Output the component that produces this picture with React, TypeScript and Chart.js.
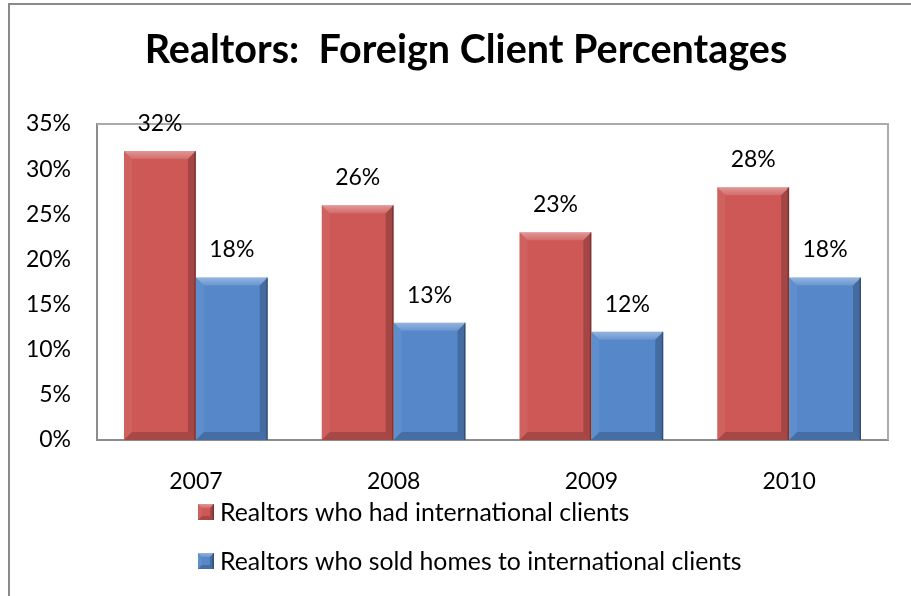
import React, { useEffect, useRef } from "react";
import { Chart, registerables } from "chart.js";

Chart.register(...registerables);

const categories = ["2007", "2008", "2009", "2010"];
const hadClients = [32, 26, 23, 28];
const soldHomes = [18, 13, 12, 18];
const seriesNames = [
  "Realtors who had international clients",
  "Realtors who sold homes to international clients",
];
const seriesColors = ["#CD5856", "#5587C9"];
const yMax = 35;
const yStep = 5;
const titleText = "Realtors:  Foreign Client Percentages";

const FONT = "Lato, 'Open Sans', sans-serif";

function drawBevel(ctx: CanvasRenderingContext2D, l: number, t: number, r: number, b: number, s: number) {
  if (b - t < 2 * s) s = Math.max(1, (b - t) / 2);
  ctx.save();
  // top
  const g = ctx.createLinearGradient(0, t, 0, t + s);
  g.addColorStop(0, "rgba(255,255,255,0.38)");
  g.addColorStop(1, "rgba(255,255,255,0.12)");
  ctx.beginPath();
  ctx.moveTo(l, t); ctx.lineTo(r, t); ctx.lineTo(r - s, t + s); ctx.lineTo(l + s, t + s); ctx.closePath();
  ctx.fillStyle = g;
  ctx.fill();
  // left
  ctx.beginPath();
  ctx.moveTo(l, t); ctx.lineTo(l + s, t + s); ctx.lineTo(l + s, b - s); ctx.lineTo(l, b); ctx.closePath();
  ctx.fillStyle = "rgba(255,255,255,0.06)";
  ctx.fill();
  // right
  ctx.beginPath();
  ctx.moveTo(r, t); ctx.lineTo(r - s, t + s); ctx.lineTo(r - s, b - s); ctx.lineTo(r, b); ctx.closePath();
  ctx.fillStyle = "rgba(0,0,0,0.2)";
  ctx.fill();
  // bottom
  ctx.beginPath();
  ctx.moveTo(l, b); ctx.lineTo(l + s, b - s); ctx.lineTo(r - s, b - s); ctx.lineTo(r, b); ctx.closePath();
  ctx.fillStyle = "rgba(0,0,0,0.18)";
  ctx.fill();
  // dark right edge
  ctx.fillStyle = "rgba(0,0,0,0.25)";
  ctx.fillRect(r - 1.5, t, 1.5, b - t);
  ctx.restore();
}

const bevelPlugin = {
  id: "bevel",
  afterDatasetsDraw(chart: any) {
    const ctx = chart.ctx;
    chart.data.datasets.forEach((_ds: any, i: number) => {
      const meta = chart.getDatasetMeta(i);
      meta.data.forEach((el: any) => {
        const { x, y, base, width } = el.getProps(["x", "y", "base", "width"], true);
        drawBevel(ctx, x - width / 2, y, x + width / 2, base, 8);
      });
    });
  },
};

const valueLabelPlugin = {
  id: "valueLabels",
  afterDatasetsDraw(chart: any) {
    const ctx = chart.ctx;
    ctx.save();
    ctx.font = `23px ${FONT}`;
    ctx.fillStyle = "#000";
    ctx.textAlign = "center";
    ctx.textBaseline = "middle";
    chart.data.datasets.forEach((ds: any, i: number) => {
      const meta = chart.getDatasetMeta(i);
      meta.data.forEach((el: any, j: number) => {
        const { x, y } = el.getProps(["x", "y"], true);
        ctx.fillText(`${ds.data[j]}%`, x, y - 27.5);
      });
    });
    ctx.restore();
  },
};

const plotBorderPlugin = {
  id: "plotBorder",
  beforeDatasetsDraw(chart: any) {
    const { ctx, chartArea } = chart;
    ctx.save();
    ctx.strokeStyle = "#ababab";
    ctx.lineWidth = 2;
    ctx.beginPath();
    ctx.moveTo(chartArea.left, chartArea.top);
    ctx.lineTo(chartArea.right, chartArea.top);
    ctx.lineTo(chartArea.right, chartArea.bottom);
    ctx.stroke();
    ctx.restore();
  },
};

const legendPlugin = {
  id: "customLegend",
  afterDraw(chart: any) {
    const ctx = chart.ctx;
    const startX = 188;
    const rows = [507, 556];
    ctx.save();
    ctx.font = `24.8px ${FONT}`;
    ctx.textAlign = "left";
    ctx.textBaseline = "middle";
    chart.data.datasets.forEach((ds: any, i: number) => {
      const cy = rows[i];
      const s = 16;
      ctx.fillStyle = ds.backgroundColor;
      ctx.fillRect(startX, cy - s / 2, s, s);
      drawBevel(ctx, startX, cy - s / 2, startX + s, cy + s / 2, 4);
      ctx.fillStyle = "#000";
      ctx.fillText(ds.label, startX + 22, cy + 1);
    });
    ctx.restore();
  },
};

export default function App() {
  const ref = useRef<HTMLCanvasElement>(null);
  useEffect(() => {
    if (!ref.current) return;
    const chart = new Chart(ref.current, {
      type: "bar",
      data: {
        labels: categories,
        datasets: [
          { label: seriesNames[0], data: hadClients, backgroundColor: seriesColors[0], categoryPercentage: 0.727, barPercentage: 1, yAxisID: "y" },
          { label: seriesNames[1], data: soldHomes, backgroundColor: seriesColors[1], categoryPercentage: 0.727, barPercentage: 1, yAxisID: "y" },
        ],
      },
      options: {
        animation: false,
        responsive: false,
        layout: { padding: { left: 0, right: 0, top: 0, bottom: 100 } },
        plugins: {
          legend: { display: false },
          tooltip: { enabled: false },
          title: {
            display: true,
            text: titleText,
            color: "#000",
            font: { family: FONT, size: 39.5, weight: "bold", lineHeight: 1.2 },
            padding: { top: 22, bottom: 49.6 },
          },
        },
        scales: {
          x: {
            grid: { display: false, drawTicks: false },
            border: { display: true, color: "#8c8c8c", width: 2 },
            ticks: { color: "#000", font: { family: FONT, size: 23 }, padding: 28 },
            afterFit: (s: any) => { s.height = 60; },
          },
          y: {
            min: 0,
            max: yMax,
            grid: { display: false, drawTicks: false },
            border: { display: true, color: "#8c8c8c", width: 2 },
            ticks: {
              stepSize: yStep,
              color: "#000",
              font: { family: FONT, size: 23 },
              padding: 26,
              callback: (v: any) => `${v}%`,
            },
            afterFit: (s: any) => { s.width = 87; },
          },
          yRightSpacer: {
            position: "right",
            min: 0,
            max: yMax,
            grid: { display: false, drawTicks: false },
            border: { display: false },
            ticks: { display: false },
            afterFit: (s: any) => { s.width = 34; },
          },
        },
      },
      plugins: [plotBorderPlugin, bevelPlugin, valueLabelPlugin, legendPlugin],
    });
    return () => chart.destroy();
  }, []);

  return (
    <div style={{ position: "fixed", inset: 0, overflow: "hidden", background: "#fff" }}>
      <div
        style={{
          position: "absolute",
          left: 8,
          top: 3,
          width: 916,
          height: 600,
          border: "2px solid #8a8a8a",
          boxSizing: "border-box",
          background: "#fff",
        }}
      >
        <canvas ref={ref} width={912} height={595} style={{ display: "block", width: 912, height: 595 }} />
      </div>
    </div>
  );
}
